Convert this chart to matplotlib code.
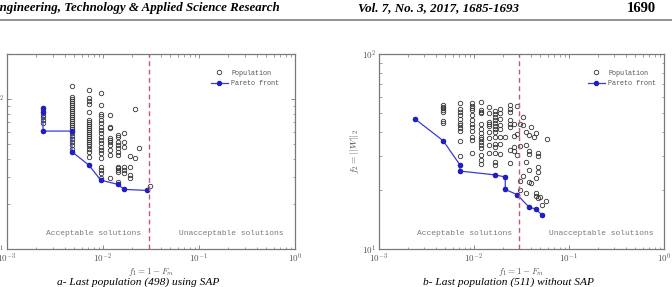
import matplotlib
matplotlib.use("Agg")
import matplotlib.pyplot as plt
from matplotlib.ticker import FixedLocator, LogLocator, NullFormatter

plt.rcParams["mathtext.fontset"] = "cm"

# panel a: last population (498) using SAP -- one column of f2 values per f1 level
sap_f1 = [0.00237, 0.00474, 0.00711, 0.00948, 0.01185, 0.01422, 0.01659,
          0.01896, 0.02133, 0.0237, 0.02844, 0.03081]
sap_f2 = [
    [86.7, 84.5, 82.3, 78.2, 75.4, 72.4, 69.5, 61.2],
    [122.1, 103.6, 100.5, 97.5, 94.5, 91.7, 88.9, 86.2, 83.6, 81.1, 78.6, 76.2, 73.9,
     71.7, 69.5, 67.4, 65.4, 63.4, 61.2, 59.0, 56.7, 54.4, 51.7, 49.1, 46.7, 44.6],
    [114.8, 101.0, 97.5, 92.6, 82.3, 72.4, 70.2, 68.1, 66.1, 64.1, 62.2, 60.3, 58.4,
     56.7, 55.0, 53.3, 51.7, 50.1, 48.6, 46.7, 44.6, 41.3, 36.3],
    [109.1, 91.2, 79.4, 77.0, 72.4, 68.8, 65.4, 62.2, 59.0, 56.1, 53.3, 50.6, 48.1,
     45.7, 43.4, 40.2, 35.0, 33.6, 32.3, 29.6, 28.8],
    [78.2, 65.4, 63.7, 54.7, 53.3, 51.9, 49.4, 45.7, 42.3, 29.6],
    [57.5, 55.5, 51.9, 49.4, 46.9, 44.6, 42.3, 35.4, 34.5, 33.6, 32.8, 28.1, 27.0],
    [59.0, 51.9, 48.1, 35.4, 33.6, 32.0, 25.0],
    [41.7, 35.0, 31.1, 29.6],
    [85.3, 40.2],
    [46.9],
    [24.6],
    [26.3],
]
sap_front_f1 = [0.00237, 0.00237, 0.00237, 0.00474, 0.00474, 0.00711, 0.00948,
                0.01422, 0.01659, 0.02844]
sap_front_f2 = [86.7, 82.3, 61.2, 61.2, 44.6, 36.3, 28.8, 27.0, 25.0, 24.6]

# panel b: last population (511) without SAP
nosap_f1 = [0.00237, 0.00474, 0.00711, 0.00948, 0.01185, 0.01422, 0.01659, 0.01896,
            0.02133, 0.0237, 0.02607, 0.02844, 0.03081, 0.03318, 0.03555, 0.03792,
            0.04029, 0.04266, 0.04503, 0.0474, 0.04977, 0.05214, 0.05688, 0.05925]
nosap_f2 = [
    [46.6],
    [54.8, 53.7, 52.7, 51.6, 50.6, 45.3, 44.1, 35.9],
    [55.8, 52.0, 50.4, 48.7, 46.2, 44.4, 43.1, 41.7, 40.4, 35.9, 30.1, 27.0, 25.1],
    [55.8, 54.3, 52.9, 51.4, 48.7, 45.9, 43.8, 42.1, 40.4, 37.7, 36.2, 31.2],
    [56.9, 51.4, 50.6, 49.8, 43.8, 41.1, 39.5, 37.7, 36.5, 35.4, 34.1, 32.8, 30.3,
     28.5, 27.3],
    [53.3, 49.6, 44.6, 43.9, 42.7, 39.8, 36.9, 34.1, 30.9],
    [51.2, 49.2, 47.3, 45.9, 44.4, 42.7, 41.4, 40.0, 37.7, 34.5, 33.2, 30.9, 27.9,
     26.9, 24.0],
    [52.4, 49.6, 46.2, 43.4, 41.1, 37.7, 34.4, 30.8],
    [37.7, 23.4, 20.2],
    [54.6, 52.4, 50.4, 45.9, 43.8, 42.1, 32.2, 27.7],
    [43.8, 37.8, 33.2, 31.7],
    [54.1, 38.9, 30.3, 19.0],
    [43.8, 33.8, 22.4, 20.1],
    [47.7, 43.2, 23.7],
    [40.0, 34.1, 27.8, 19.3],
    [38.4, 31.9, 30.7, 25.4, 22.1, 16.4],
    [42.4, 21.9],
    [37.7],
    [39.5, 23.0, 19.3, 18.7, 16.0],
    [31.2, 30.1, 26.4, 24.9, 18.2],
    [18.5],
    [16.8, 14.9],
    [17.7],
    [36.8],
]
nosap_front_f1 = [0.00237, 0.00474, 0.00711, 0.00711, 0.01659, 0.02133, 0.02133,
                  0.02844, 0.03792, 0.04503, 0.05214]
nosap_front_f2 = [46.6, 35.9, 27.0, 25.1, 24.0, 23.4, 20.2, 19.0, 16.4, 16.0, 14.9]

f1_limit = 0.03
x_ticks = [1e-3, 1e-2, 1e-1, 1e0]
x_tick_labels = [r"$10^{-3}$", r"$10^{-2}$", r"$10^{-1}$", r"$10^{0}$"]
y_ticks = [10, 100]
y_tick_labels = [r"$10^{1}$", r"$10^{2}$"]

GRAY = "#7a7a7a"
TEXT = "#555555"
MONO = "Liberation Mono"


def draw_panel(ax, cols_f1, cols_f2, front_f1, front_f2, ylim, legend_x, caption, ylabel=None):
    pop_x = [x for x, ys in zip(cols_f1, cols_f2) for _ in ys]
    pop_y = [y for ys in cols_f2 for y in ys]
    ax.set_xscale("log")
    ax.set_yscale("log")
    ax.set_xlim(1e-3, 1e0)
    ax.set_ylim(*ylim)

    pop, = ax.plot(pop_x, pop_y, linestyle="none", marker="o", markersize=3.2,
                   markerfacecolor="none", markeredgecolor="#333333", markeredgewidth=0.6)
    front, = ax.plot(front_f1, front_f2, color="#3a3ad6", linewidth=0.9, marker="o",
                     markersize=2.9, markerfacecolor="#1f1fc8", markeredgecolor="#1f1fc8")
    ax.axvline(f1_limit, color="#c8547a", linestyle=(0, (3.5, 2.5)), linewidth=1.0)

    ax.text(0.30, 0.082, "Acceptable solutions", transform=ax.transAxes, ha="center",
            va="center", family=MONO, fontsize=5.8, color=GRAY)
    ax.text(0.78, 0.082, "Unacceptable solutions", transform=ax.transAxes, ha="center",
            va="center", family=MONO, fontsize=5.8, color=GRAY)

    leg = ax.legend([pop, front], ["Population", "Pareto front"], loc="upper left",
                    bbox_to_anchor=(legend_x, 0.92), frameon=False, borderpad=0,
                    borderaxespad=0, handlelength=2.5, handletextpad=0.5,
                    labelspacing=0.55, prop={"family": MONO, "size": 4.9})
    for t in leg.get_texts():
        t.set_color(TEXT)

    ax.xaxis.set_major_locator(FixedLocator(x_ticks))
    ax.set_xticklabels(x_tick_labels)
    ax.xaxis.set_minor_locator(LogLocator(base=10, subs=range(2, 10)))
    ax.xaxis.set_minor_formatter(NullFormatter())
    ax.yaxis.set_major_locator(FixedLocator(y_ticks))
    ax.set_yticklabels(y_tick_labels)
    ax.yaxis.set_minor_locator(LogLocator(base=10, subs=range(2, 10)))
    ax.yaxis.set_minor_formatter(NullFormatter())

    ax.tick_params(which="both", direction="in", top=True, right=True, colors=GRAY,
                   labelcolor=TEXT, labelsize=6.5, pad=2)
    ax.tick_params(which="major", length=3, width=0.6)
    ax.tick_params(which="minor", length=1.8, width=0.5)
    for sp in ax.spines.values():
        sp.set_color(GRAY)
        sp.set_linewidth(0.9)

    ax.set_xlabel(r"$f_1 = 1 - F_m$", fontsize=6.5, color=TEXT, labelpad=1)
    if ylabel:
        ax.set_ylabel(ylabel, fontsize=7, color=TEXT, labelpad=1)
    ax.text(0.455, -0.145, caption, transform=ax.transAxes, ha="center", va="top",
            family="Liberation Serif", style="italic", fontsize=8.2, color="black")


fig = plt.figure(figsize=(6.72, 2.87), dpi=100)

ax_a = fig.add_axes([7 / 672, 1 - 249 / 287, 288 / 672, 195 / 287])
draw_panel(ax_a, sap_f1, sap_f2, sap_front_f1, sap_front_f2, (10, 200), 0.708,
           "a- Last population (498) using SAP", ylabel=r"$f_2 = ||W||_2$")

ax_b = fig.add_axes([379 / 672, 1 - 249 / 287, 285 / 672, 195 / 287])
draw_panel(ax_b, nosap_f1, nosap_f2, nosap_front_f1, nosap_front_f2, (10, 100), 0.733,
           "b- Last population (511) without SAP", ylabel=r"$f_2 = ||W||_2$")

# journal page header
fig.text(280 / 672, 1 - 8 / 287, "Engineering, Technology & Applied Science Research",
         ha="right", va="center", family="Liberation Serif", weight="bold",
         style="italic", fontsize=9.3)
fig.text(358 / 672, 1 - 8 / 287, "Vol. 7, No. 3, 2017, 1685-1693", ha="left",
         va="center", family="Liberation Serif", weight="bold", style="italic", fontsize=9.4)
fig.text(656 / 672, 1 - 8 / 287, "1690", ha="right", va="center",
         family="Liberation Serif", weight="bold", fontsize=10.5)
fig.add_artist(plt.Line2D([0, 1], [1 - 19.5 / 287] * 2, color="#808080", linewidth=1.2,
                          transform=fig.transFigure))

fig.savefig("out.png", dpi=100)
